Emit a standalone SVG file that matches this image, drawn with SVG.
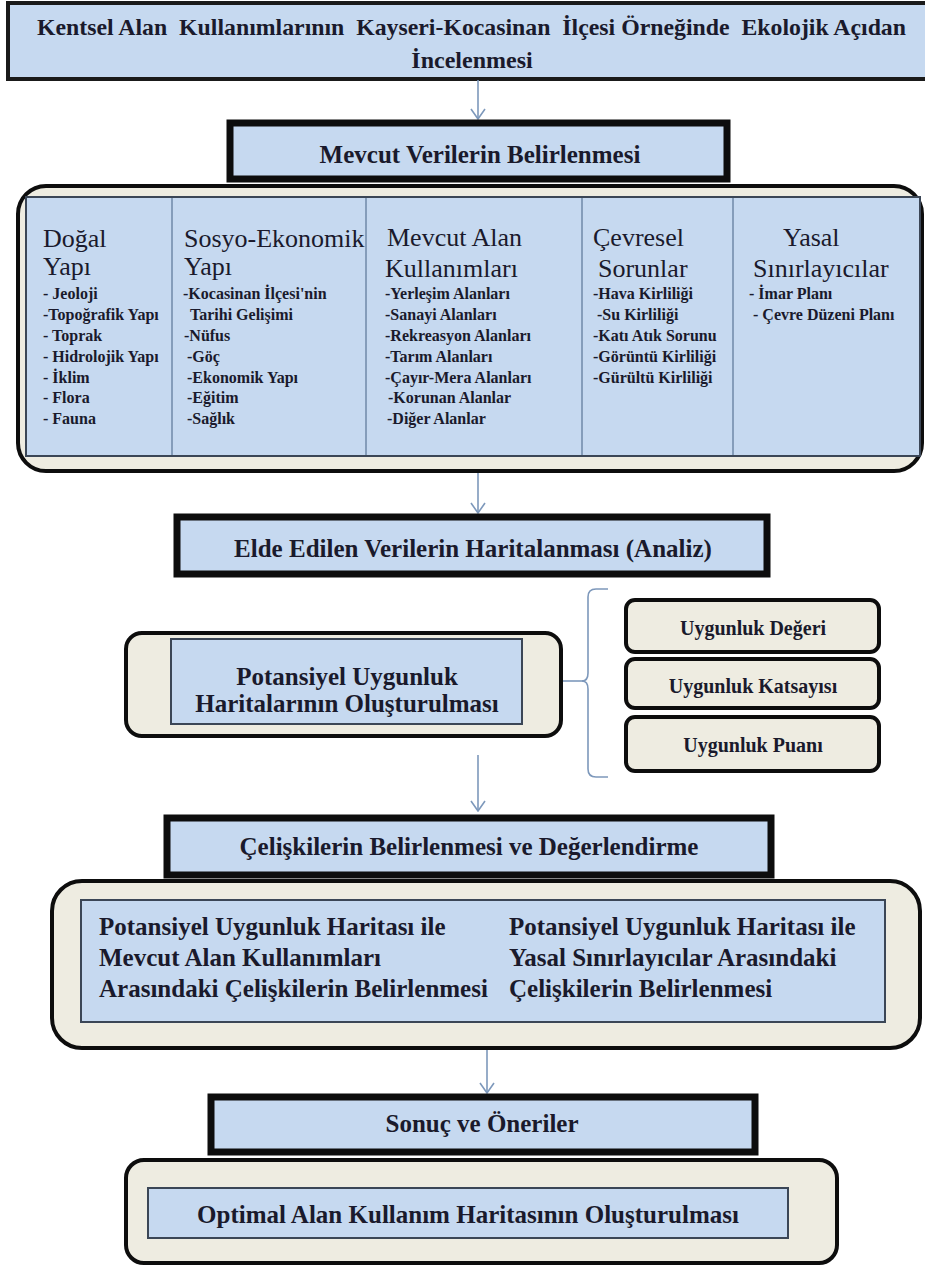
<svg xmlns="http://www.w3.org/2000/svg" width="925" height="1267" viewBox="0 0 925 1267">
<style>
.t{font-family:"Liberation Serif","Times New Roman",serif;font-weight:bold;fill:#1a1a2c}
.h{font-family:"Liberation Serif","Times New Roman",serif;font-weight:normal;font-size:26px;fill:#1a1a2c}
.it{font-family:"Liberation Serif","Times New Roman",serif;font-weight:bold;font-size:16px;fill:#1a1a2c}
.blue{fill:#c6d9f0}
.head{fill:#c6d9f0;stroke:#0d0d0d;stroke-width:7}
.inner{fill:#c6d9f0;stroke:#3b4656;stroke-width:2}
.cont{fill:#eeece1;stroke:#0d0d0d;stroke-width:4}
.conn{stroke:#7d98bb;stroke-width:1.6;fill:none}
.div{stroke:#6f88a8;stroke-width:1.5}
</style>
<defs>
<marker id="arr" viewBox="-1 -8 12 16" refX="10" refY="0" markerWidth="12" markerHeight="16" markerUnits="userSpaceOnUse" orient="auto">
<path d="M0,-7 L10,0 L0,7" fill="none" stroke="#7d98bb" stroke-width="1.6"/>
</marker>
</defs>
<rect width="925" height="1267" fill="#ffffff"/>

<g id="title">
<rect x="8" y="3" width="930" height="76" fill="#c6d9f0" stroke="#1a1a1a" stroke-width="4"/>
<text class="t" x="37" y="35" font-size="24" xml:space="preserve" textLength="869" lengthAdjust="spacingAndGlyphs">Kentsel Alan  Kullanımlarının  Kayseri-Kocasinan  İlçesi Örneğinde  Ekolojik Açıdan</text>
<text class="t" x="472" y="68" font-size="24" text-anchor="middle">İncelenmesi</text>
</g>

<g id="connectors">
<line class="conn" x1="478" y1="80" x2="478" y2="119" marker-end="url(#arr)"/>
<line class="conn" x1="478" y1="473" x2="478" y2="513" marker-end="url(#arr)"/>
<line class="conn" x1="478" y1="755" x2="478" y2="811" marker-end="url(#arr)"/>
<line class="conn" x1="487" y1="1050" x2="487" y2="1093" marker-end="url(#arr)"/>
<line class="conn" x1="562" y1="681" x2="583" y2="681"/>
<path class="conn" stroke-width="2" d="M608,589 L596,589 Q588,589 588,597 L588,673 Q588,681 582,681 Q588,681 588,689 L588,769 Q588,777 596,777 L608,777"/>
</g>

<g id="mevcut-verilerin">
<rect class="head" x="230" y="123" width="497" height="56"/>
<text class="t" x="480" y="163" font-size="25" text-anchor="middle">Mevcut Verilerin Belirlenmesi</text>
</g>

<g id="veri-tablosu">
<rect class="cont" x="18" y="186" width="904" height="285" rx="28"/>
<rect class="inner" x="26" y="197" width="894" height="259"/>
<line class="div" x1="172" y1="198" x2="172" y2="455"/>
<line class="div" x1="366" y1="198" x2="366" y2="455"/>
<line class="div" x1="582" y1="198" x2="582" y2="455"/>
<line class="div" x1="733" y1="198" x2="733" y2="455"/>
</g>

<g id="dogal-yapi">
<text class="h" x="43" y="247">Doğal</text>
<text class="h" x="43" y="275">Yapı</text>
<text class="it" x="43" y="299">- Jeoloji</text>
<text class="it" x="43" y="320">-Topoğrafik Yapı</text>
<text class="it" x="43" y="341">- Toprak</text>
<text class="it" x="43" y="362">- Hidrolojik Yapı</text>
<text class="it" x="43" y="383">- İklim</text>
<text class="it" x="43" y="403">- Flora</text>
<text class="it" x="43" y="424">- Fauna</text>
</g>

<g id="sosyo-ekonomik">
<text class="h" x="184" y="247">Sosyo-Ekonomik</text>
<text class="h" x="184" y="275">Yapı</text>
<text class="it" x="183" y="299">-Kocasinan İlçesi'nin</text>
<text class="it" x="190" y="320">Tarihi Gelişimi</text>
<text class="it" x="184" y="341">-Nüfus</text>
<text class="it" x="187" y="362">-Göç</text>
<text class="it" x="187" y="383">-Ekonomik Yapı</text>
<text class="it" x="187" y="403">-Eğitim</text>
<text class="it" x="187" y="424">-Sağlık</text>
</g>

<g id="mevcut-alan">
<text class="h" x="387" y="246">Mevcut Alan</text>
<text class="h" x="385" y="277">Kullanımları</text>
<text class="it" x="385" y="299">-Yerleşim Alanları</text>
<text class="it" x="385" y="320">-Sanayi Alanları</text>
<text class="it" x="385" y="341">-Rekreasyon Alanları</text>
<text class="it" x="385" y="362">-Tarım Alanları</text>
<text class="it" x="385" y="383">-Çayır-Mera Alanları</text>
<text class="it" x="388" y="403">-Korunan Alanlar</text>
<text class="it" x="387" y="424">-Diğer Alanlar</text>
</g>

<g id="cevresel-sorunlar">
<text class="h" x="593" y="246">Çevresel</text>
<text class="h" x="598" y="277">Sorunlar</text>
<text class="it" x="593" y="299">-Hava Kirliliği</text>
<text class="it" x="597" y="320">-Su Kirliliği</text>
<text class="it" x="593" y="341">-Katı Atık Sorunu</text>
<text class="it" x="593" y="362">-Görüntü Kirliliği</text>
<text class="it" x="593" y="383">-Gürültü Kirliliği</text>
</g>

<g id="yasal-sinirlayicilar">
<text class="h" x="783" y="246">Yasal</text>
<text class="h" x="753" y="277">Sınırlayıcılar</text>
<text class="it" x="749" y="299">- İmar Planı</text>
<text class="it" x="753" y="320">- Çevre Düzeni Planı</text>
</g>

<g id="elde-edilen">
<rect class="head" x="177" y="517" width="590" height="57"/>
<text class="t" x="473" y="557" font-size="25" text-anchor="middle">Elde Edilen Verilerin Haritalanması (Analiz)</text>
</g>

<g id="potansiyel-uygunluk">
<rect class="cont" x="126" y="633" width="435" height="103" rx="16"/>
<rect class="inner" x="171" y="639" width="351" height="85"/>
<text class="t" x="347" y="685" font-size="25" text-anchor="middle">Potansiyel Uygunluk</text>
<text class="t" x="347" y="712" font-size="25" text-anchor="middle">Haritalarının Oluşturulması</text>
</g>

<g id="uygunluk-degeri">
<rect class="cont" x="626" y="600" width="253" height="52" rx="9"/>
<text class="t" x="753" y="635" font-size="20" text-anchor="middle">Uygunluk Değeri</text>
</g>
<g id="uygunluk-katsayisi">
<rect class="cont" x="626" y="659" width="253" height="49" rx="9"/>
<text class="t" x="753" y="693" font-size="20" text-anchor="middle">Uygunluk Katsayısı</text>
</g>
<g id="uygunluk-puani">
<rect class="cont" x="626" y="717" width="253" height="54" rx="9"/>
<text class="t" x="753" y="752" font-size="20" text-anchor="middle">Uygunluk Puanı</text>
</g>

<g id="celiskiler">
<rect class="head" x="167" y="818" width="604" height="57"/>
<text class="t" x="469" y="855" font-size="25" text-anchor="middle">Çelişkilerin Belirlenmesi ve Değerlendirme</text>
</g>

<g id="celiski-belirleme">
<rect class="cont" x="52" y="881" width="868" height="167" rx="30"/>
<rect class="inner" x="81" y="900" width="804" height="122"/>
<text class="t" x="99" y="935" font-size="25">Potansiyel Uygunluk Haritası ile</text>
<text class="t" x="99" y="966" font-size="25">Mevcut Alan Kullanımları</text>
<text class="t" x="99" y="997" font-size="25">Arasındaki Çelişkilerin Belirlenmesi</text>
<text class="t" x="509" y="935" font-size="25">Potansiyel Uygunluk Haritası ile</text>
<text class="t" x="509" y="966" font-size="25">Yasal Sınırlayıcılar Arasındaki</text>
<text class="t" x="509" y="997" font-size="25">Çelişkilerin Belirlenmesi</text>
</g>

<g id="sonuc-oneriler">
<rect class="head" x="211" y="1097" width="544" height="55"/>
<text class="t" x="482" y="1132" font-size="25" text-anchor="middle">Sonuç ve Öneriler</text>
</g>

<g id="optimal-alan">
<rect class="cont" x="126" y="1160" width="711" height="103" rx="18"/>
<rect class="inner" x="148" y="1188" width="640" height="50"/>
<text class="t" x="468" y="1223" font-size="25" text-anchor="middle">Optimal Alan Kullanım Haritasının Oluşturulması</text>
</g>
</svg>
